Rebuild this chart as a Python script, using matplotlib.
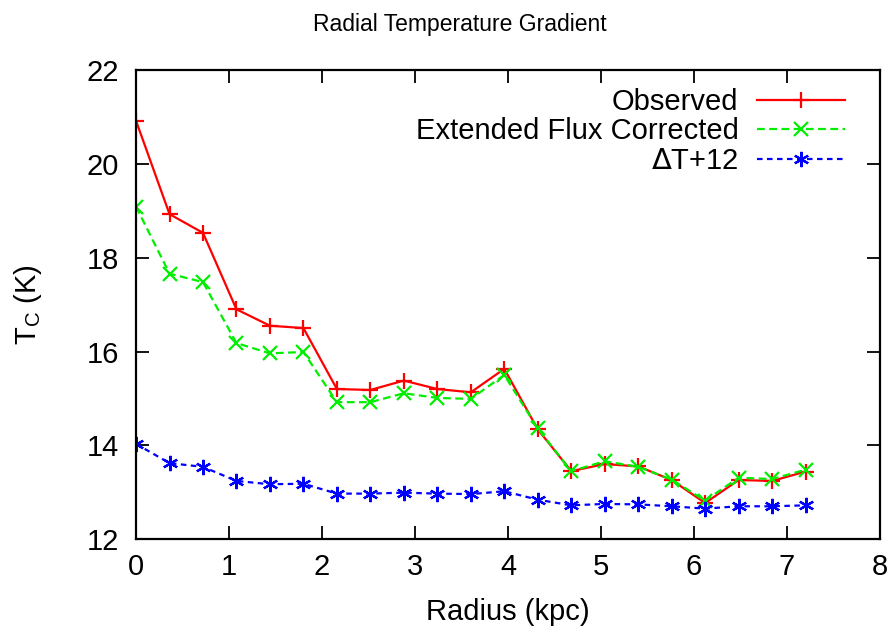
import numpy as np
import matplotlib.pyplot as plt

plt.rcParams['font.family'] = ['Liberation Sans', 'DejaVu Sans']

# ---------- data ----------
radius = [0.00, 0.36, 0.72, 1.08, 1.44, 1.80, 2.16, 2.52, 2.88, 3.24, 3.60,
          3.96, 4.32, 4.68, 5.04, 5.40, 5.76, 6.12, 6.48, 6.84, 7.20]
observed = [20.92, 18.93, 18.53, 16.90, 16.55, 16.50, 15.20, 15.18, 15.38, 15.20, 15.13,
            15.63, 14.34, 13.45, 13.60, 13.55, 13.26, 12.77, 13.26, 13.24, 13.44]
corrected = [19.09, 17.66, 17.48, 16.18, 15.96, 15.99, 14.92, 14.92, 15.11, 15.01, 14.99,
             15.50, 14.36, 13.45, 13.66, 13.54, 13.27, 12.82, 13.31, 13.28, 13.48]
delta_t = [14.03, 13.62, 13.54, 13.24, 13.17, 13.18, 12.97, 12.97, 12.99, 12.97, 12.96,
           13.02, 12.84, 12.72, 12.75, 12.74, 12.70, 12.65, 12.70, 12.70, 12.72]

FS = 21

fig = plt.figure(figsize=(8.92, 6.32), dpi=100)
ax = fig.add_axes([0.1525, 0.147, 0.834, 0.742])

ax.plot(radius, observed, color="#ff0000", lw=1.6, marker="+", ms=11, mew=1.6,
        label="Observed")
ax.plot(radius, corrected, color="#00ee00", lw=1.6, ls=(0, (3.5, 2)), marker="x", ms=10, mew=1.6,
        label="Extended Flux Corrected")
ax.plot(radius, delta_t, color="#0000ff", lw=1.6, ls=(0, (2.5, 2)), marker=(6, 2, 0), ms=11, mew=1.6,
        label=r"$\Delta$T+12")

ax.set_xlim(0, 8)
ax.set_ylim(12, 22)
ax.set_xticks(range(0, 9))
ax.set_yticks(range(12, 23, 2))
ax.tick_params(direction="in", length=9.5, width=1.3, top=True, right=True,
               labelsize=FS)
ax.tick_params(axis="x", pad=10)
ax.tick_params(axis="y", pad=12)
for s in ax.spines.values():
    s.set_linewidth(1.6)

ax.set_xlabel("Radius (kpc)", fontsize=FS, labelpad=12)
ax.set_ylabel(r"T$_\mathregular{C}$ (K)", fontsize=FS, labelpad=31)
ax.set_title("Radial Temperature Gradient", fontsize=16.5, pad=28, x=0.435)

leg = ax.legend(loc="upper right", frameon=False, markerfirst=False, fontsize=FS,
                handlelength=3.0, handletextpad=0.65, labelspacing=0.05,
                borderpad=0, borderaxespad=0, bbox_to_anchor=(0.953, 0.962))
for t in leg.get_texts():
    t.set_ha("right")
leg._legend_box.align = "right"

plt.savefig("out.png", dpi=100)
